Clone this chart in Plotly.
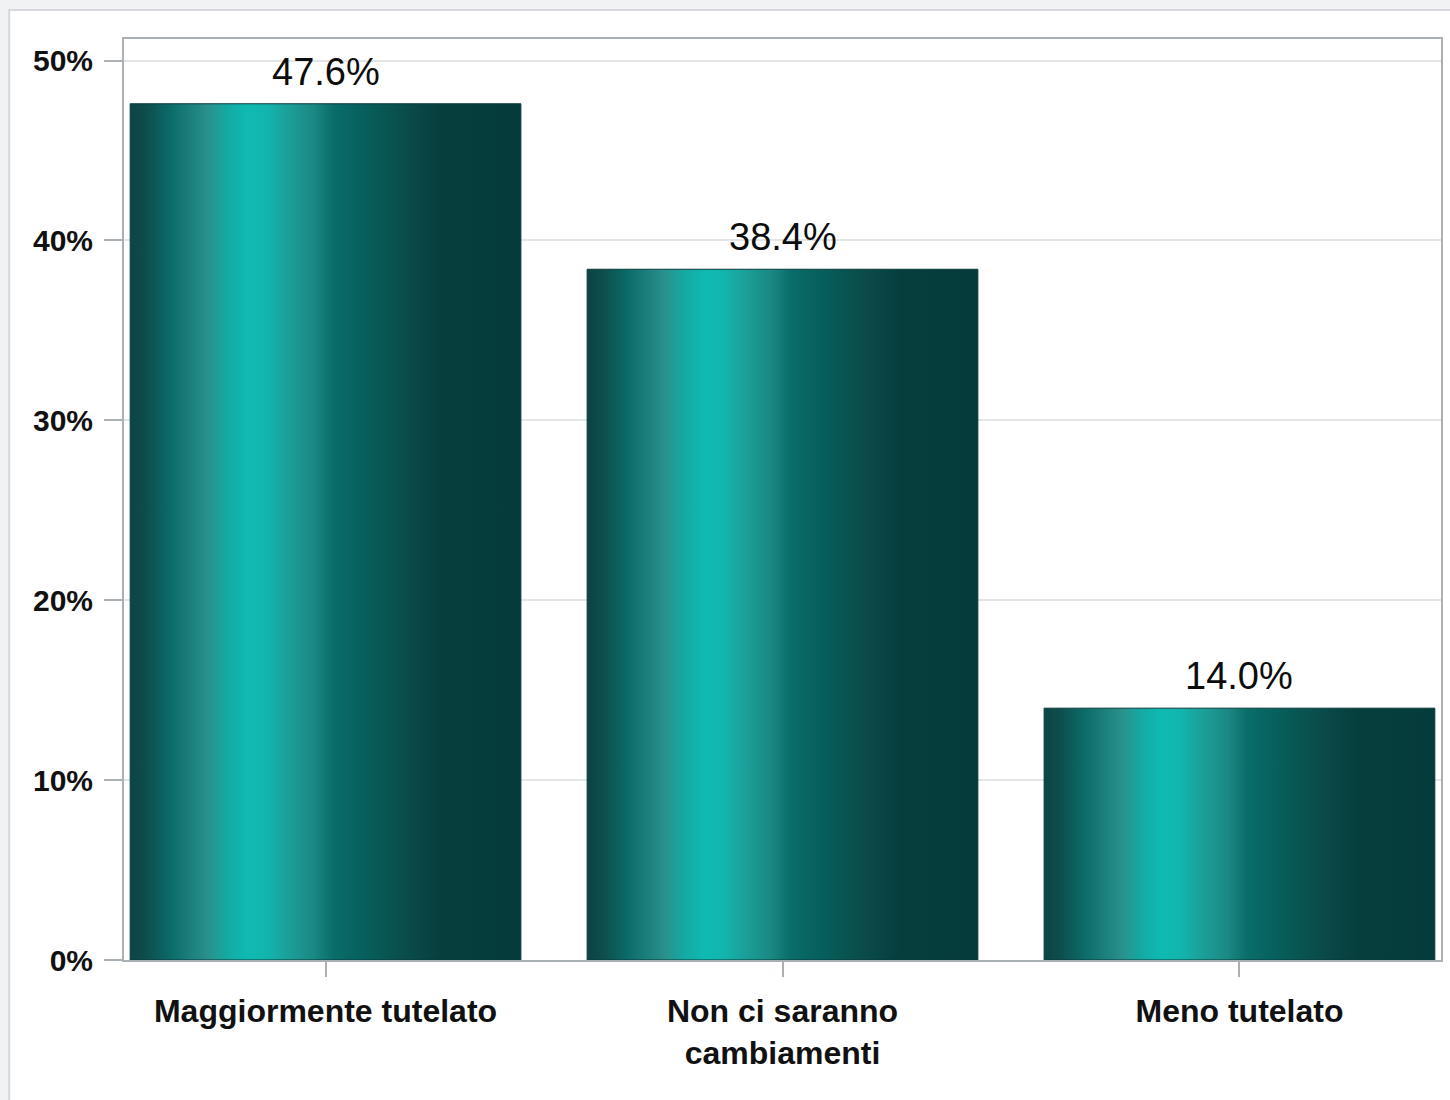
import plotly.graph_objects as go

# ---- data ----
categories = ["Maggiormente tutelato", "Non ci saranno<br>cambiamenti", "Meno tutelato"]
values = [47.6, 38.4, 14.0]
value_labels = ["47.6%", "38.4%", "14.0%"]
y_tick_vals = [0, 10, 20, 30, 40, 50]
y_tick_text = ["0%", "10%", "20%", "30%", "40%", "50%"]

# ---- style ----
BAR_W = 0.855
grad = [
    [0.00, "#0b4444"], [0.04, "#0e4d4c"], [0.10, "#0b6a67"], [0.20, "#2a918c"],
    [0.25, "#14aaa4"], [0.30, "#0fbab2"], [0.35, "#12b5ad"], [0.40, "#1ba19b"],
    [0.47, "#1b8883"], [0.52, "#0a6d69"], [0.60, "#065f5c"], [0.70, "#0a4d4b"],
    [0.80, "#063e3e"], [1.00, "#043a3a"],
]

W, H = 1450, 1100
ML, MR, MT, MB = 124, 7, 39, 140
PW, PH = W - ML - MR, H - MT - MB

fig = go.Figure()
for i, v in enumerate(values):
    x0, x1 = i - BAR_W / 2, i + BAR_W / 2
    fig.add_trace(go.Scatter(
        x=[x0, x1, x1, x0, x0], y=[0, 0, v, v, 0],
        mode="lines", fill="toself",
        fillgradient=dict(type="horizontal", colorscale=grad),
        line=dict(color="#0a3b3b", width=1),
        hoverinfo="skip", showlegend=False,
    ))
    fig.add_annotation(
        x=i, y=v, text=value_labels[i], showarrow=False,
        yanchor="bottom", yshift=9,
        font=dict(family="Liberation Sans, Arial", size=38, color="#0d0d0d"),
    )

# outer panel
def px_x(px):
    return (px - ML) / PW

def px_y(py):
    return (H - MB - py) / PH

fig.add_shape(type="rect", xref="paper", yref="paper",
              x0=px_x(9), x1=px_x(1460), y0=px_y(1110), y1=px_y(10),
              fillcolor="white", line=dict(color="#d6d8db", width=2), layer="below")

fig.update_layout(
    width=W, height=H,
    margin=dict(l=ML, r=MR, t=MT, b=MB),
    paper_bgcolor="#f1f2f4", plot_bgcolor="white",
    showlegend=False,
)
fig.update_xaxes(
    range=[-0.441, 2.441], tickmode="array", tickvals=list(range(len(categories))),
    ticktext=categories, showgrid=False, zeroline=False,
    showline=True, linecolor="#a9b1b4", linewidth=2, mirror=True,
    ticks="outside", ticklen=15, tickwidth=2, tickcolor="#a9b1b4",
    ticklabelstandoff=7,
    tickfont=dict(family="Liberation Sans, Arial", size=32, color="#111111", weight="bold"),
)
fig.update_yaxes(
    range=[0, 51.2], tickmode="array", tickvals=y_tick_vals, ticktext=y_tick_text,
    showgrid=True, gridcolor="#e3e5e6", gridwidth=2, zeroline=False,
    showline=True, linecolor="#a9b1b4", linewidth=2, mirror=True,
    ticks="outside", ticklen=18, tickwidth=2, tickcolor="#a9b1b4",
    ticklabelstandoff=5,
    tickfont=dict(family="Liberation Sans Narrow, Arial Narrow, Liberation Sans", size=30,
                  color="#111111", weight="bold"),
)

fig.write_html("out.html", config={"displayModeBar": False},
               post_script="document.body.style.margin='0';document.body.style.overflow='hidden';")
